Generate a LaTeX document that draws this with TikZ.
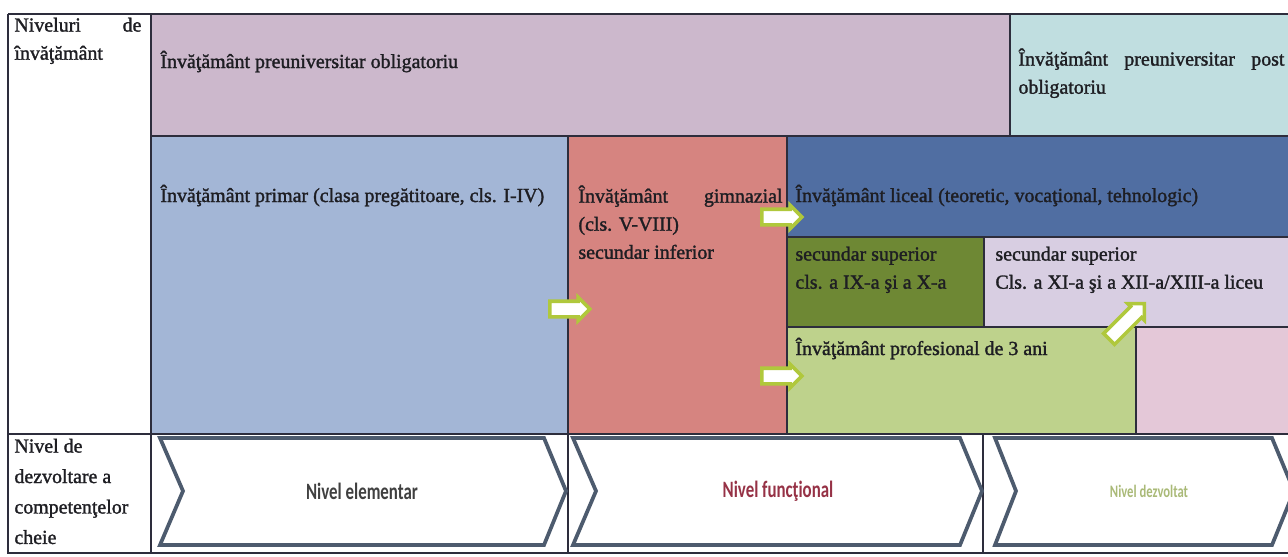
\documentclass[tikz,border=0pt]{standalone}
\usepackage{fontspec}
\setmainfont{Liberation Serif}[FakeBold=1.5]
\newfontfamily\chevfont{Carlito}[FakeStretch=0.72]
\usetikzlibrary{shapes.arrows}

\definecolor{purpc}{RGB}{204,184,204}
\definecolor{tealc}{RGB}{192,222,224}
\definecolor{primc}{RGB}{163,182,214}
\definecolor{gimc}{RGB}{214,132,128}
\definecolor{licc}{RGB}{80,110,162}
\definecolor{dgrc}{RGB}{110,136,52}
\definecolor{lilc}{RGB}{216,206,226}
\definecolor{lgrc}{RGB}{190,210,140}
\definecolor{pinkc}{RGB}{228,200,216}
\definecolor{gridc}{RGB}{45,45,60}
\definecolor{inkc}{RGB}{30,30,35}
\definecolor{chevc}{RGB}{77,91,110}
\definecolor{glowc}{RGB}{176,200,60}

\newcommand\celltxt{\fontsize{8.5}{12}\selectfont}
\newcommand\chevtxt{\chevfont\bfseries\fontsize{10}{12}\selectfont}
\newcommand\topstrut{\rule{0pt}{9pt}}
\hyphenpenalty=10000
\exhyphenpenalty=10000

\begin{document}
\begin{tikzpicture}[x=0.015cm,y=-0.015cm,
    txt/.style={anchor=base west, inner sep=0pt, font=\celltxt, text=inkc},
    mtxt/.style={anchor=north west, inner sep=0pt, font=\celltxt, text=inkc},
    grid/.style={draw=gridc, line width=0.5pt},
    frame/.style={draw=gridc, line width=1pt},
    chev/.style={draw=chevc, line width=1.6pt, fill=white, line join=miter},
    arr/.style={single arrow, draw=glowc, fill=white, line width=1.5pt,
      minimum height=0.6cm, inner xsep=0pt, inner ysep=0.09cm,
      single arrow head extend=0.06cm}]
  \useasboundingbox (0,0) rectangle (1288,556);
  \clip (0,0) rectangle (1288,556);

  % coloured cells
  \fill[purpc] (151,14) rectangle (1010,136);
  \fill[tealc] (1010,14) rectangle (1288,136);
  \fill[primc] (151,136) rectangle (568,434);
  \fill[gimc] (568,136) rectangle (787,434);
  \fill[licc] (787,136) rectangle (1288,237);
  \fill[dgrc] (787,237) rectangle (984,327);
  \fill[lilc] (984,237) rectangle (1288,327);
  \fill[lgrc] (787,327) rectangle (1136,434);
  \fill[pinkc] (1136,327) rectangle (1288,434);

  % table lines
  \draw[frame] (8,14) -- (1288,14);
  \draw[frame] (8,14) -- (8,553) -- (1288,553);
  \draw[frame] (8,434) -- (1288,434);
  \draw[grid] (151,14) -- (151,553);
  \draw[grid] (151,136) -- (1288,136);
  \draw[grid] (1010,14) -- (1010,136);
  \draw[grid] (568,136) -- (568,553);
  \draw[grid] (787,136) -- (787,434);
  \draw[grid] (787,237) -- (1288,237);
  \draw[grid] (984,237) -- (984,327);
  \draw[grid] (787,327) -- (1288,327);
  \draw[grid] (1136,327) -- (1136,434);
  \draw[grid] (983,434) -- (983,553);

  % texts (north west = first baseline - 21)
  \node[mtxt, text width=1.905cm, align=justify] (nivInv) at (14,10)
    {\topstrut Niveluri de învăţământ};
  \node[txt] (obl) at (160,68) {Învăţământ preuniversitar obligatoriu};
  \node[mtxt, text width=3.99cm, align=justify] (postObl) at (1018,44)
    {\topstrut Învăţământ preuniversitar post obligatoriu};
  \node[txt] (prim) at (160,202) {Învăţământ primar (clasa pregătitoare, cls. I-IV)};
  \node[mtxt, text width=3.06cm, align=justify] (gimn) at (578,181)
    {\topstrut Învăţământ gimnazial (cls. V-VIII)\\secundar inferior};
  \node[txt] (lic) at (795,202) {Învăţământ liceal (teoretic, vocaţional, tehnologic)};
  \node[mtxt, align=left] (supInf) at (795,239) {\topstrut secundar superior\\cls. a IX-a şi a X-a};
  \node[mtxt, align=left] (supSup) at (995,239) {\topstrut secundar superior\\Cls. a XI-a şi a XII-a/XIII-a liceu};
  \node[txt] (prof) at (795,355) {Învăţământ profesional de 3 ani};
  \node[mtxt, align=left, font=\fontsize{8.5}{13}\selectfont] (nivComp) at (14,431)
    {\topstrut Nivel de\\dezvoltare a\\competenţelor\\cheie};

  % transition arrows
  \node[arr] (a1) at (566,309) {};
  \node[arr] (a2) at (778,217) {};
  \node[arr] (a3) at (778,376) {};
  \node[arr, minimum height=0.75cm, rotate=45] (a4) at (1124,324) {};

  % competence levels
  \draw[chev] (160,438) -- (544,438) -- (566,491) -- (544,545) -- (160,545) -- (183,491) -- cycle;
  \draw[chev] (573,438) -- (960,438) -- (982,491) -- (960,545) -- (573,545) -- (596,491) -- cycle;
  \draw[chev] (995,438) -- (1272,438) -- (1294,491) -- (1272,545) -- (995,545) -- (1016,491) -- cycle;
  \node[font=\chevtxt, text=black!75] (lvlElem) at (362,491) {Nivel elementar};
  \node[font=\chevtxt, text={rgb,255:red,150;green,50;blue,70}] (lvlFunc) at (778,491) {Nivel funcţional};
  \node[font=\chevfont\bfseries\fontsize{7.5}{9}\selectfont, text={rgb,255:red,170;green,186;blue,120}] (lvlDezv) at (1149,491) {Nivel dezvoltat};
\end{tikzpicture}
\end{document}
